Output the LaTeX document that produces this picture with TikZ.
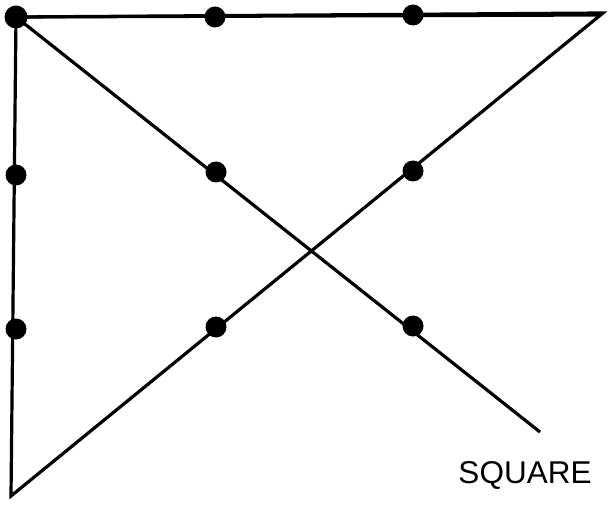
\documentclass[tikz,border=0pt]{standalone}
\usepackage{fontspec}
\setmainfont{Liberation Sans}
\begin{document}
\begin{tikzpicture}[x=1pt,y=-1pt,
  dot/.style={circle,fill=black,inner sep=0pt,minimum size=21pt},
  stroke/.style={line width=3.2pt,line join=miter}]
\useasboundingbox (0,0) rectangle (609,510);
% dots
\node[dot,minimum size=23pt] (d11) at (16,17) {};
\node[dot] (d12) at (215,17) {};
\node[dot] (d13) at (413,15) {};
\node[dot] (d21) at (16,175) {};
\node[dot] (d22) at (216,172) {};
\node[dot] (d23) at (413,171) {};
\node[dot] (d31) at (16,329) {};
\node[dot] (d32) at (216,327) {};
\node[dot] (d33) at (413,326) {};
% path corners
\coordinate (tr) at (603,13);
\coordinate (bl) at (11,496);
\coordinate (end) at (540,432);
\draw[stroke] (end) -- (d11.center) -- (tr) -- (bl) -- (d11.center);
\draw[stroke] (d11.center) -- (599,15);
\node[font=\fontsize{31.5}{31.5}\selectfont,anchor=base] (lab) at (525,483) {SQUARE};
\end{tikzpicture}
\end{document}
